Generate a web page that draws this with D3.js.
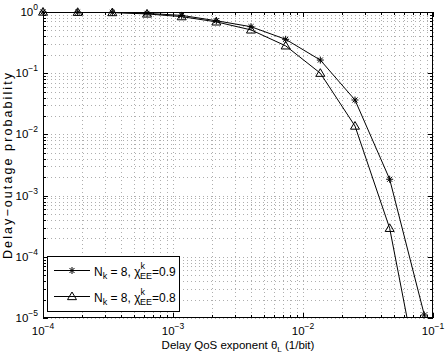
<!DOCTYPE html>
<html><head><meta charset="utf-8">
<script src="https://cdn.jsdelivr.net/npm/d3@7"></script>
<style>body{margin:0;background:#fff}svg{display:block}text{font-family:"Liberation Sans",Arial,sans-serif;fill:#000}</style>
</head><body><svg id="c" width="448" height="354"></svg>
<script>
const theta = [1e-4,1.848e-4,3.415e-4,6.310e-4,1.166e-3,2.154e-3,3.981e-3,7.356e-3,1.359e-2,2.512e-2,4.642e-2,8.577e-2];
const pStar = [1.0,0.995,0.985,0.95,0.88,0.72,0.575,0.358,0.164,0.0365,1.85e-3,1.12e-5];
const pTri  = [1.0,0.99,0.98,0.93,0.84,0.69,0.51,0.28,0.10,0.0137,2.92e-4,3.5e-7];
const xTickExp = [-4,-3,-2,-1];
const yTickExp = [0,-1,-2,-3,-4,-5];
const legendLabels = ["0.9","0.8"];

const svg = d3.select("#c");
const L=43,R=433,T=12,B=318;
const x = d3.scaleLog().domain([1e-4,1e-1]).range([L,R]);
const y = d3.scaleLog().domain([1e-5,1]).range([B,T]);

const xg=[],yg=[];
for(let e=-4;e<-1;e++){for(let m=1;m<10;m++){xg.push(m*Math.pow(10,e));}}
xg.push(1e-1);
for(let e=-5;e<0;e++){for(let m=1;m<10;m++){yg.push(m*Math.pow(10,e));}}
yg.push(1);
const g=svg.append("g");
g.selectAll(".gx").data(xg).join("line").attr("x1",d=>Math.round(x(d))+0.5).attr("x2",d=>Math.round(x(d))+0.5)
 .attr("y1",T).attr("y2",B).attr("stroke","#999").attr("stroke-width",0.8).attr("stroke-dasharray","1,3");
g.selectAll(".gy").data(yg).join("line").attr("y1",d=>Math.round(y(d))+0.5).attr("y2",d=>Math.round(y(d))+0.5)
 .attr("x1",L).attr("x2",R).attr("stroke","#999").attr("stroke-width",0.8).attr("stroke-dasharray","1,3");

const isMajor=d=>Math.abs(Math.log10(d)-Math.round(Math.log10(d)))<1e-6;
const tk=svg.append("g").attr("stroke","#000").attr("stroke-width",1);
xg.forEach(d=>{const len=isMajor(d)?5:3;const xx=Math.round(x(d))+0.5;
 tk.append("line").attr("x1",xx).attr("x2",xx).attr("y1",B).attr("y2",B-len);
 tk.append("line").attr("x1",xx).attr("x2",xx).attr("y1",T).attr("y2",T+len);});
yg.forEach(d=>{const len=isMajor(d)?5:3;const yy=Math.round(y(d))+0.5;
 tk.append("line").attr("y1",yy).attr("y2",yy).attr("x1",L).attr("x2",L+len);
 tk.append("line").attr("y1",yy).attr("y2",yy).attr("x1",R).attr("x2",R-len);});

svg.append("clipPath").attr("id","cp").append("rect").attr("x",L).attr("y",T).attr("width",R-L).attr("height",B-T);

const line=d3.line().x((d,i)=>x(theta[i])).y(d=>y(d));
const star = (s,cx,cy)=>{const r=3.5,d=r*0.72;const gg=s.append("g").attr("stroke","#000").attr("stroke-width",1);
 gg.append("line").attr("x1",cx-r).attr("x2",cx+r).attr("y1",cy).attr("y2",cy);
 gg.append("line").attr("x1",cx).attr("x2",cx).attr("y1",cy-r).attr("y2",cy+r);
 gg.append("line").attr("x1",cx-d).attr("x2",cx+d).attr("y1",cy-d).attr("y2",cy+d);
 gg.append("line").attr("x1",cx-d).attr("x2",cx+d).attr("y1",cy+d).attr("y2",cy-d);};
const tri = (s,cx,cy)=>{const r=4.5;s.append("path").attr("d",`M${cx},${cy-r}L${cx+r},${cy+r*0.7}L${cx-r},${cy+r*0.7}Z`)
 .attr("fill","none").attr("stroke","#000").attr("stroke-width",1);};

const pg=svg.append("g").attr("clip-path","url(#cp)");
pg.append("path").datum(pStar).attr("d",line).attr("fill","none").attr("stroke","#000").attr("stroke-width",1);
pg.append("path").datum(pTri).attr("d",line).attr("fill","none").attr("stroke","#000").attr("stroke-width",1);
const mg=svg.append("g");
pStar.forEach((v,i)=>{if(v>=1e-5)star(mg,x(theta[i]),y(v));});
pTri.forEach((v,i)=>{if(v>=1e-5)tri(mg,x(theta[i]),y(v));});

svg.append("rect").attr("x",L+0.5).attr("y",T+0.5).attr("width",R-L-1).attr("height",B-T-1).attr("fill","none").attr("stroke","#000").attr("stroke-width",1);

xTickExp.forEach(e=>{const t=svg.append("text").attr("x",x(Math.pow(10,e))).attr("y",335).attr("text-anchor","middle").attr("font-size",11.5);
 t.append("tspan").text("10");t.append("tspan").attr("dy",-6).attr("font-size",8.5).text("\u2212"+(-e));});
yTickExp.forEach(e=>{const t=svg.append("text").attr("x",38).attr("y",y(Math.pow(10,e))+4).attr("text-anchor","end").attr("font-size",11.5);
 t.append("tspan").text("10");t.append("tspan").attr("dy",-6).attr("font-size",8.5).text(e===0?"0":"\u2212"+(-e));});

const xl=svg.append("text").attr("x",238).attr("y",349).attr("text-anchor","middle").attr("font-size",11.5);
xl.append("tspan").text("Delay QoS exponent \u03b8");xl.append("tspan").attr("dy",3).attr("font-size",8).text("L");
xl.append("tspan").attr("dy",-3).text(" (1/bit)");
svg.append("text").attr("transform","translate(12,166) rotate(-90)").attr("text-anchor","middle").attr("font-size",12.5)
 .attr("textLength",186).attr("lengthAdjust","spacing").text("Delay\u2212outage probability");

const lg=svg.append("g");
lg.append("rect").attr("x",47.5).attr("y",256.5).attr("width",132).attr("height",55).attr("fill","#fff").attr("stroke","#000").attr("stroke-width",1);
const rows=[270.5,296.5];
rows.forEach((ry,i)=>{lg.append("line").attr("x1",54).attr("x2",90).attr("y1",ry).attr("y2",ry).attr("stroke","#000").attr("stroke-width",1);
 if(i===0)star(lg,72,ry);else tri(lg,72,ry);
 const t=lg.append("text").attr("x",94).attr("y",ry+5).attr("font-size",12);
 t.append("tspan").text("N");t.append("tspan").attr("dy",3).attr("font-size",9).text("k");
 t.append("tspan").attr("dy",-3).text(" = 8, \u03c7");
 t.append("tspan").attr("dy",-7).attr("font-size",9).text("k");
 t.append("tspan").attr("dx",-5).attr("dy",10).attr("font-size",9).text("EE");
 t.append("tspan").attr("dy",-3).text("="+legendLabels[i]);});
</script></body></html>
